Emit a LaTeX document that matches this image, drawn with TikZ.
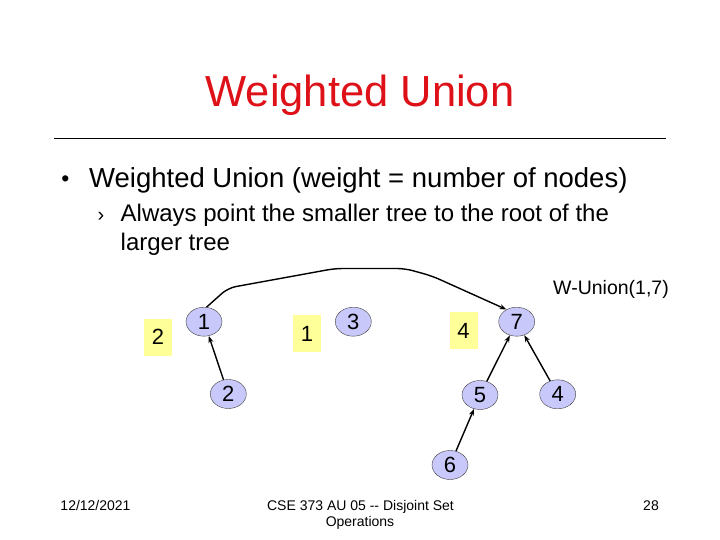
\documentclass[tikz,border=0pt]{standalone}
\usepackage{fontspec}
\setmainfont{Liberation Sans}
\usetikzlibrary{shapes.geometric,arrows.meta}
\definecolor{titlered}{RGB}{222,16,24}
\definecolor{nodeblue}{RGB}{200,200,250}
\definecolor{weightyellow}{RGB}{255,255,153}
\begin{document}
\begin{tikzpicture}[x=1pt,y=-1pt,
        txt/.style={inner sep=0pt,font=\fontsize{#1}{#1}\selectfont},
        link/.style={line width=1.4pt,-{Stealth[length=7pt,width=5pt]}}]
    \fill[white] (0,0) rectangle (720,540);
    \useasboundingbox (0,0) rectangle (720,540);
    \node[txt=43.5,text=titlered,anchor=base] (title) at (360,107) {Weighted Union};
    \coordinate (ruleL) at (54,138);
    \coordinate (ruleR) at (666,138);
    \draw[line width=0.8pt] (ruleL) -- (ruleR);
    \node[txt=23,anchor=base] (dot) at (65.5,187) {\textbullet};
    \node[txt=27.5,anchor=base west] (line1) at (89,188) {Weighted Union (weight = number of nodes)};
    \node[txt=20,anchor=base] (mark) at (101,221.7) {›};
    \node[txt=24,anchor=base west] (line2) at (120.5,221.7) {Always point the smaller tree to the root of the};
    \node[txt=24,anchor=base west] (line3) at (120.5,250) {larger tree};
    \node[txt=19.5,anchor=base east] (op) at (669,294) {W-Union(1,7)};
    \begin{scope}[every node/.style={fill=weightyellow,minimum width=28pt,minimum height=37pt,inner sep=0pt,font=\fontsize{22}{22}\selectfont}]
        \node (w2) at (158,337) {2};
        \node (w1) at (307,333.5) {1};
        \node (w4) at (463.5,330.7) {4};
    \end{scope}
    \begin{scope}[every node/.style={ellipse,draw=black!75,fill=nodeblue,minimum width=36pt,minimum height=29pt,inner sep=0pt,font=\fontsize{22}{22}\selectfont}]
        \node (1) at (204,321.7) {1};
        \node (2) at (228.3,394) {2};
        \node (3) at (353.3,321.7) {3};
        \node (7) at (516.7,321.7) {7};
        \node (5) at (480,395) {5};
        \node (4) at (557.7,394.3) {4};
        \node (6) at (450,465) {6};
    \end{scope}
    \begin{scope}[every edge/.style={draw,link}]
        \path
            (2) edge (1)
            (6) edge (5)
            (5) edge (7)
            (4) edge (7);
    \end{scope}
    \coordinate (k1) at (228,288);
    \coordinate (k2) at (335,268.5);
    \coordinate (k3) at (405,268.5);
    \coordinate (k4) at (432,276);
    \draw[link,rounded corners=8pt] (1.80) -- (k1) -- (k2) -- (k3) -- (k4) -- (7.130);
    \node[txt=14,anchor=base] (date) at (95.5,510) {12/12/2021};
    \node[txt=14,anchor=base] (course) at (360.5,510) {CSE 373 AU 05 -{}- Disjoint Set};
    \node[txt=14,anchor=base] (course2) at (360,526) {Operations};
    \node[txt=14,anchor=base] (page) at (651,510) {28};
\end{tikzpicture}
\end{document}
